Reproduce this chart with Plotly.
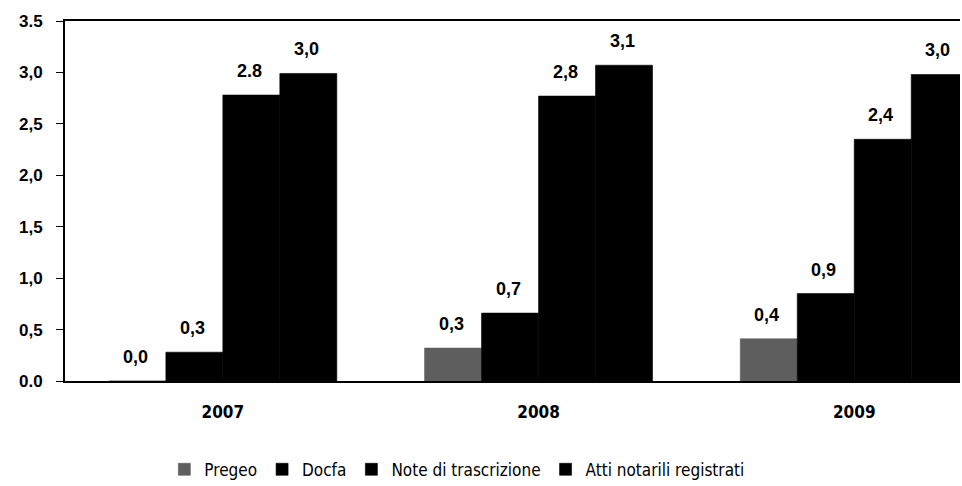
import plotly.graph_objects as go

years = ["2007", "2008", "2009"]
series_names = ["Pregeo", "Docfa", "Note di trascrizione", "Atti notarili registrati"]
pregeo = [0.0, 0.32, 0.41]
docfa = [0.28, 0.66, 0.85]
note = [2.78, 2.77, 2.35]
atti = [2.99, 3.07, 2.98]
pregeo_lbl = ["0,0", "0,3", "0,4"]
docfa_lbl = ["0,3", "0,7", "0,9"]
note_lbl = ["2.8", "2,8", "2,4"]
atti_lbl = ["3,0", "3,1", "3,0"]
y_ticks = [0, 0.5, 1.0, 1.5, 2.0, 2.5, 3.0, 3.5]
y_tick_text = ["0.0", "0,5", "1,0", "1,5", "2,0", "2,5", "3,0", "3.5"]

colors = ["#5e5e5e", "#000000", "#000000", "#000000"]
values = [pregeo, docfa, note, atti]
labels = [pregeo_lbl, docfa_lbl, note_lbl, atti_lbl]

NARROW = "DejaVu Sans Condensed, Liberation Sans Narrow, Arial Narrow, Liberation Sans"

W, H = 962, 486
ML, MR, MT, MB = 65, 2, 21, 105
X_RANGE = [-0.5, 2.335]
BARGAP = 0.278
cat_px = (W - ML - MR) / (X_RANGE[1] - X_RANGE[0])
bar_px = cat_px * (1 - BARGAP) / len(series_names)

fig = go.Figure()
for name, vals, col in zip(series_names, values, colors):
    fig.add_trace(go.Bar(
        x=years, y=vals, name=name, marker=dict(color=col, line=dict(width=0.6, color=col)),
    ))

annotations = []
for i, (vals, lbl) in enumerate(zip(values, labels)):
    for j, (v, t) in enumerate(zip(vals, lbl)):
        annotations.append(dict(
            x=j, y=v, xref="x", yref="y", text=t, showarrow=False,
            xanchor="center", yanchor="bottom", yshift=12,
            xshift=(i - (len(series_names) - 1) / 2) * bar_px - 2,
            font=dict(family="Liberation Sans, Arial", size=18, color="black", weight="bold"),
        ))

fig.update_layout(
    width=W, height=H,
    margin=dict(l=ML, r=MR, t=MT, b=MB, autoexpand=False),
    paper_bgcolor="white", plot_bgcolor="white",
    barmode="group", bargap=BARGAP, bargroupgap=0,
    font=dict(family="Liberation Sans, Arial", color="black"),
    annotations=annotations,
    legend=dict(
        orientation="h", x=0.111, xanchor="left", y=-0.2465, yanchor="middle",
        font=dict(family=NARROW, size=17, color="black"),
        itemwidth=30, tracegroupgap=0, bgcolor="rgba(0,0,0,0)",
    ),
    xaxis=dict(
        type="category",
        range=X_RANGE, showline=True, linecolor="black", linewidth=2, mirror=True,
        ticks="outside", ticklen=15, tickcolor="white", automargin=False,
        tickfont=dict(family=NARROW, size=17, color="black", weight="bold"),
        showgrid=False, fixedrange=True,
    ),
    yaxis=dict(
        range=[0, 3.5], tickvals=y_ticks, ticktext=y_tick_text, automargin=False,
        showline=True, linecolor="black", linewidth=2,
        ticks="outside", ticklen=7, tickcolor="black", ticklabelstandoff=10,
        tickfont=dict(family="Liberation Sans, Arial", size=17, color="black", weight="bold"),
        showgrid=False, zeroline=False, fixedrange=True,
    ),
)

fig.write_html(
    "out.html",
    config={"displayModeBar": False},
    post_script="document.body.style.margin='0';document.body.style.overflow='hidden';",
)
